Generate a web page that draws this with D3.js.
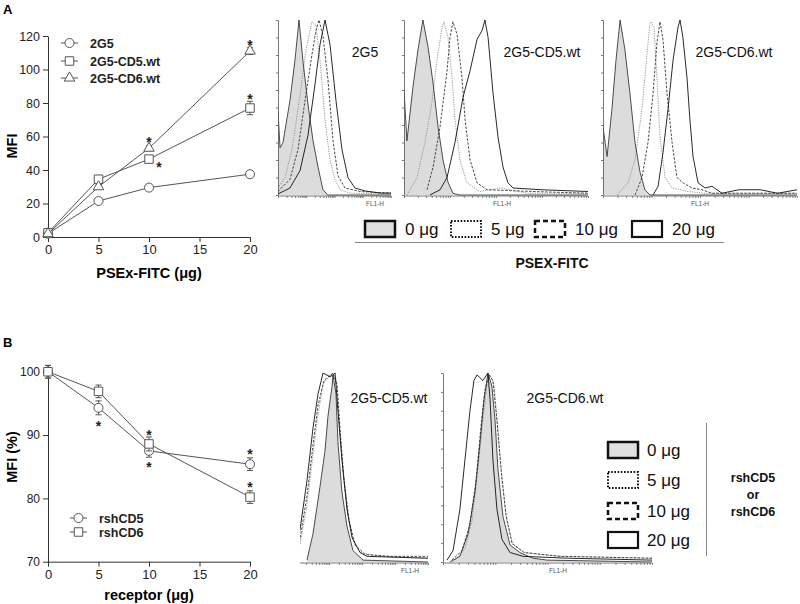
<!DOCTYPE html>
<html><head><meta charset="utf-8">
<script src="https://cdn.jsdelivr.net/npm/d3@7"></script>
<style>body{margin:0;background:#fff}svg{display:block}text{font-family:Arial,"Liberation Sans",sans-serif}</style>
</head><body><svg id="c" width="800" height="604"></svg>
<script>
// ---------- DATA: panel A line chart ----------
const doseA = [0, 5, 10, 20];
const mfi2G5 = [2, 21.5, 29.5, 37.5];
const err2G5 = [0.5, 0.8, 0.8, 1];
const mfiCD5 = [2.5, 34.5, 46.5, 77];
const errCD5 = [0.5, 1, 1.5, 4];
const mfiCD6 = [2, 30, 53, 111];
const errCD6 = [0.5, 1, 1.5, 2];
const starsA = [[20, 116.5], [10, 58.5], [11, 43.5], [20, 84]];
const yTicksA = [0, 20, 40, 60, 80, 100, 120];
const xTicks = [0, 5, 10, 15, 20];
const seriesNamesA = ["2G5", "2G5-CD5.wt", "2G5-CD6.wt"];

// ---------- DATA: panel B line chart ----------
const doseB = [0, 5, 10, 20];
const pctCD5 = [100, 94.3, 87.5, 85.4];
const errPct5 = [1, 1.1, 1, 1];
const pctCD6 = [100, 96.9, 88.6, 80.2];
const errPct6 = [1, 1, 1.1, 1];
const starsB = [[5, 91.9], [10, 90.5], [10, 85.4], [20, 87.5], [20, 82.3]];
const yTicksB = [70, 80, 90, 100];
const seriesNamesB = ["rshCD5", "rshCD6"];

// ---------- DATA: histograms (channel 0-100, % of max) ----------
const histA1_0 = [[0,48],[1.8,27],[4.4,30],[10.6,54],[15,77],[18.6,100],[22,77],[26.5,52],[31,31],[35.4,16],[39.8,3],[44,0],[100,0]];
const histA1_5 = [[0,4],[6.2,10],[12.4,26],[19.5,57],[24.8,83],[30,99],[33.6,97],[37.2,77],[41.6,43],[46,20],[50.4,9],[54.9,3],[63.7,1],[100,0.6]];
const histA1_10 = [[0,2],[10.6,9],[17.7,26],[23.9,54],[30,80],[33.6,94],[36.3,100],[39.8,91],[44.2,66],[48.7,31],[53.1,11],[59.3,4],[72.6,2],[100,1]];
const histA1_20 = [[0,0.6],[10.6,4],[19.5,14],[26.5,34],[32.7,63],[37.2,86],[41.6,100],[46,86],[51.3,54],[56.6,26],[61.9,10],[68.1,4],[77,2.3],[90.3,1.1],[100,1.1]];

const histA2_0 = [[0,60],[1.6,31],[4.9,62],[7.6,83],[10.3,100],[13,85],[15.8,64],[18.5,39],[21.2,20],[24,7],[26.6,1],[30,0],[100,0]];
const histA2_5 = [[1.6,0],[7.1,10],[11.4,30],[15.2,53],[17.9,77],[20.7,96],[21.7,99],[23.9,90],[26.1,67],[27.7,43],[30.4,20],[34.2,7],[41.3,2],[52.2,4],[67.4,1],[100,1]];
const histA2_10 = [[12.5,3],[15.8,16],[19.6,39],[23.4,71],[25,90],[26.6,99],[28.8,92],[31.5,67],[33.2,43],[35.9,20],[39.7,7],[45.1,3],[70,2],[100,1]];
const histA2_20 = [[14.1,0],[19.6,3],[23.4,10],[27.7,30],[32.1,56],[35.9,71],[39.7,89],[42.4,94],[44,100],[45.7,90],[48.4,58],[51.1,33],[53.8,16],[56.5,7],[59.2,4],[75,3],[100,2]];

const histA3_0 = [[0,39],[2.1,22],[4.6,49],[6.7,77],[8.8,100],[11.3,83],[13.9,58],[16.5,30],[19.1,13],[21.6,3],[24.2,0],[100,0]];
const histA3_5 = [[7.2,0],[12.9,7],[16.5,20],[20.1,49],[22.7,81],[24.2,98],[24.7,99],[26.3,96],[27.8,67],[29.4,33],[32,10],[35.6,4],[43.8,2],[52.6,1],[100,1]];
const histA3_10 = [[16.5,0],[20.1,10],[23.2,30],[25.8,58],[27.8,87],[29.4,99],[30.9,89],[33,58],[35.6,30],[38.1,10],[41.2,7],[45.9,4],[51,3],[56.2,1],[100,1]];
const histA3_20 = [[25.8,0],[28.4,5],[30.9,24],[33.5,49],[36.1,77],[38.7,96],[39.7,100],[41.2,90],[43.3,67],[44.8,43],[46.4,22],[49,7],[52.6,4],[56.2,5],[61.3,1],[70,3],[81,3],[90,1],[100,3]];

const histB1_0 = [[8.3,1],[12.9,15],[18.2,40],[22,59],[24.2,77],[27.3,93],[28,99],[30.3,89],[31.8,63],[34.8,37],[38.6,19],[43.2,6],[50.8,1],[100,0]];
const histB1_5 = [[0,5],[3,9],[8.3,30],[12.9,57],[16.7,78],[20.5,94],[25.8,99],[30.3,97],[32.6,75],[35.6,49],[39.4,25],[43.2,12],[48.5,5],[63.7,3],[100,2]];
const histB1_10 = [[0,7],[3,12],[8.3,35],[12.9,62],[16.7,83],[21.2,96],[28,100],[31.1,94],[33.4,70],[36.4,43],[40.2,22],[44.7,9],[52.3,4],[71.2,3],[100,3]];
const histB1_20 = [[0,8],[3,17],[8.3,43],[12.9,71],[16.7,89],[20.5,100],[25.8,98],[29.6,100],[31.8,80],[34.8,54],[38.6,28],[42.4,13],[48.5,5],[53.8,3],[100,2]];

const histB2_0 = [[3.3,0],[8.1,3],[12,15],[15.3,37],[17.7,63],[19.6,86],[21.5,100],[23.4,93],[24.9,75],[26.3,49],[28.7,24],[32.1,9],[36.8,5],[43.1,2],[49.8,1],[100,0]];
const histB2_5 = [[5.7,1],[10.5,7],[13.9,22],[16.7,49],[19.1,75],[21.1,94],[22.5,99],[24.4,94],[26.3,70],[28.2,43],[30.6,22],[33.5,9],[39.2,5],[56,3],[100,2]];
const histB2_10 = [[4.3,1],[9.1,6],[12.9,20],[15.8,43],[18.2,72],[20.1,91],[22,99],[23.9,96],[25.8,75],[27.8,49],[30.1,25],[33,10],[38.8,5],[56,3],[100,2]];
const histB2_20 = [[1.9,1],[4.8,6],[8.1,28],[10.5,54],[12.9,80],[14.8,96],[16.3,99],[19.1,96],[21.5,100],[22.5,86],[23.9,54],[25.8,28],[28.2,12],[32.1,5],[38.3,3],[60,2],[100,1]];

const doseLabels = ["0 μg", "5 μg", "10 μg", "20 μg"];
const histLabelsA = ["2G5", "2G5-CD5.wt", "2G5-CD6.wt"];
const histLabelsB = ["2G5-CD5.wt", "2G5-CD6.wt"];

// ---------- DRAW ----------
const svg = d3.select("#c");
const FONT = 'Arial,"Liberation Sans",sans-serif';
const defs = svg.append("defs");

function styleAxis(sel, fs) {
  sel.selectAll("path,line").attr("stroke", "#333").attr("stroke-width", 1);
  sel.selectAll("text").attr("fill", "#222").attr("font-size", fs).attr("font-family", FONT);
}

function lineChart(cfg) {
  const x = d3.scaleLinear().domain([0, 20]).range([48, 250]);
  const y = d3.scaleLinear().domain(cfg.yDomain).range(cfg.yRange);
  const g = svg.append("g");
  g.append("g").attr("transform", `translate(48,0)`)
    .call(d3.axisLeft(y).tickValues(cfg.yTicks).tickSize(5).tickSizeOuter(0).tickPadding(3))
    .call(s => styleAxis(s, cfg.yFs));
  g.append("g").attr("transform", `translate(0,${cfg.yRange[0]})`)
    .call(d3.axisBottom(x).tickValues(xTicks).tickSize(5).tickSizeOuter(0).tickPadding(3))
    .call(s => styleAxis(s, 13));
  g.append("text").attr("transform", `translate(17,${cfg.ytY}) rotate(-90)`).attr("text-anchor", "middle")
    .attr("font-weight", "bold").attr("font-size", 14.5).text(cfg.yTitle);
  g.append("text").attr("x", 149).attr("y", cfg.xtY).attr("text-anchor", "middle")
    .attr("font-weight", "bold").attr("font-size", 14.5).text(cfg.xTitle);
  const line = d3.line().x((d, i) => x(cfg.xs[i])).y(d => y(d));
  cfg.series.forEach(s => {
    g.append("path").attr("d", line(s.v)).attr("fill", "none").attr("stroke", "#555").attr("stroke-width", 1);
    s.v.forEach((v, i) => {
      const cx = x(cfg.xs[i]), e = s.e[i];
      g.append("line").attr("x1", cx).attr("x2", cx).attr("y1", y(v - e)).attr("y2", y(v + e)).attr("stroke", "#555");
      [v - e, v + e].forEach(w => g.append("line").attr("x1", cx - 3).attr("x2", cx + 3).attr("y1", y(w)).attr("y2", y(w)).attr("stroke", "#555"));
    });
    g.selectAll(null).data(s.v).enter().append("path")
      .attr("transform", (d, i) => `translate(${x(cfg.xs[i])},${y(d)})`)
      .attr("d", d3.symbol().type(s.sym).size(s.size)())
      .attr("fill", "#fff").attr("stroke", "#555").attr("stroke-width", 1);
  });
  g.selectAll(null).data(cfg.stars).enter().append("text")
    .attr("x", d => x(d[0])).attr("y", d => y(d[1])).attr("dy", "0.57em")
    .attr("text-anchor", "middle").attr("font-weight", "bold").attr("font-size", 14).attr("fill", "#222").text("*");
  cfg.series.forEach((s, i) => {
    const ly = cfg.legY[i];
    g.append("line").attr("x1", cfg.legX).attr("x2", cfg.legX + 17).attr("y1", ly).attr("y2", ly).attr("stroke", "#555");
    g.append("path").attr("transform", `translate(${cfg.legX + 8.5},${ly})`)
      .attr("d", d3.symbol().type(s.sym).size(s.size)()).attr("fill", "#fff").attr("stroke", "#555");
    g.append("text").attr("x", cfg.legX + 29).attr("y", ly).attr("dy", "0.36em")
      .attr("font-weight", "bold").attr("font-size", 12.5).attr("fill", "#222").text(s.name);
  });
}

lineChart({
  yDomain: [0, 120], yRange: [237, 36], yTicks: yTicksA, yFs: 12.5, xs: doseA,
  yTitle: "MFI", ytY: 146, xTitle: "PSEx-FITC (μg)", xtY: 278,
  series: [
    { name: seriesNamesA[0], v: mfi2G5, e: err2G5, sym: d3.symbolCircle, size: 64 },
    { name: seriesNamesA[1], v: mfiCD5, e: errCD5, sym: d3.symbolSquare, size: 72 },
    { name: seriesNamesA[2], v: mfiCD6, e: errCD6, sym: d3.symbolTriangle, size: 48 }
  ],
  stars: starsA, legX: 61, legY: [43, 61, 78]
});
lineChart({
  yDomain: [70, 101], yRange: [561.7, 365.4], yTicks: yTicksB, yFs: 12, xs: doseB,
  yTitle: "MFI (%)", ytY: 457, xTitle: "receptor (μg)", xtY: 600,
  series: [
    { name: seriesNamesB[0], v: pctCD5, e: errPct5, sym: d3.symbolCircle, size: 64 },
    { name: seriesNamesB[1], v: pctCD6, e: errPct6, sym: d3.symbolSquare, size: 72 }
  ],
  stars: starsB, legX: 70, legY: [518, 532]
});

svg.append("text").attr("x", 3).attr("y", 14).attr("font-weight", "bold").attr("font-size", 13).text("A");
svg.append("text").attr("x", 3).attr("y", 347).attr("font-weight", "bold").attr("font-size", 13).text("B");

const doseStyle = [
  { stroke: "#222", dash: null, w: 0.8 },
  { stroke: "#8a8a8a", dash: "1.2,1.2", w: 0.9 },
  { stroke: "#333", dash: "2.5,1.5", w: 0.9 },
  { stroke: "#111", dash: null, w: 0.9 }
];

function hist(p, idx) {
  const x = d3.scaleLinear().domain([0, 100]).range([p.x0, p.x1]);
  const y = d3.scaleLinear().domain([0, 100]).range([p.yb, p.yt]);
  const cid = "clip" + idx;
  defs.append("clipPath").attr("id", cid).append("rect")
    .attr("x", p.cx).attr("y", p.yt - 5).attr("width", p.x1 - p.cx).attr("height", p.yb - p.yt + 6);
  const g = svg.append("g");
  const area = d3.area().x(d => x(d[0])).y0(p.yb).y1(d => y(d[1]));
  const line = d3.line().x(d => x(d[0])).y(d => y(d[1]));
  const c = g.append("g").attr("clip-path", `url(#${cid})`);
  c.append("path").attr("d", area(p.curves[0])).attr("fill", "#dcdcdc");
  [1, 2, 3, 0].forEach(k => {
    const st = doseStyle[k];
    c.append("path").attr("d", line(p.curves[k])).attr("fill", "none")
      .attr("stroke", st.stroke).attr("stroke-width", st.w).attr("stroke-dasharray", st.dash);
  });
  if (p.leftAxis) {
    g.append("g").attr("transform", `translate(${p.x0},0)`)
      .call(d3.axisLeft(y).ticks(10).tickSize(2).tickFormat("").tickSizeOuter(0))
      .call(s => s.selectAll("path,line").attr("stroke", "#555").attr("stroke-width", 0.8));
  }
  const xl = d3.scaleLog().domain([1, 1e4]).range([p.x0, p.x1]);
  const ax = g.append("g").attr("transform", `translate(0,${p.yb + 1})`)
    .call(d3.axisBottom(xl).tickValues(xl.ticks()).tickSize(2).tickFormat("").tickSizeOuter(0));
  ax.select(".domain").remove();
  ax.selectAll("line").attr("stroke", "#555").attr("stroke-width", 0.7);
  ax.selectAll(".tick").filter(d => d < xl.invert(p.cx)).remove();
  g.append("line").attr("x1", p.cx).attr("x2", p.x1).attr("y1", p.yb + 1).attr("y2", p.yb + 1).attr("stroke", "#555").attr("stroke-width", 0.8);
  g.append("text").attr("x", p.flx).attr("y", p.yb + 11).attr("text-anchor", "middle")
    .attr("font-size", 6.5).attr("fill", "#555").text("FL1-H");
  g.append("text").attr("x", p.lx).attr("y", p.ly).attr("dy", "0.36em").attr("text-anchor", "middle")
    .attr("font-size", 14).attr("fill", "#111").text(p.label);
}

const panels = [
  { x0: 278, cx: 278, x1: 391, yb: 195, yt: 20, leftAxis: true, flx: 375, lx: 365, ly: 52, label: histLabelsA[0], curves: [histA1_0, histA1_5, histA1_10, histA1_20] },
  { x0: 404, cx: 404, x1: 588, yb: 195, yt: 20, leftAxis: true, flx: 502, lx: 542, ly: 52, label: histLabelsA[1], curves: [histA2_0, histA2_5, histA2_10, histA2_20] },
  { x0: 603, cx: 603, x1: 797, yb: 195, yt: 20, leftAxis: true, flx: 700, lx: 734, ly: 52, label: histLabelsA[2], curves: [histA3_0, histA3_5, histA3_10, histA3_20] },
  { x0: 296, cx: 300, x1: 428, yb: 562, yt: 373, leftAxis: false, flx: 410, lx: 389, ly: 398, label: histLabelsB[0], curves: [histB1_0, histB1_5, histB1_10, histB1_20] },
  { x0: 443, cx: 443, x1: 652, yb: 562, yt: 373, leftAxis: true, flx: 558, lx: 565, ly: 398, label: histLabelsB[1], curves: [histB2_0, histB2_5, histB2_10, histB2_20] }
];
panels.forEach(hist);

const boxStyle = [
  { fill: "#e0e0e0", dash: null, w: 2.5 },
  { fill: "#fff", dash: "1.6,1.6", w: 2 },
  { fill: "#fff", dash: "5,3", w: 2.5 },
  { fill: "#fff", dash: null, w: 2.2 }
];
function legendBox(bx, by, k, tx) {
  svg.append("rect").attr("x", bx).attr("y", by).attr("width", 30).attr("height", 16)
    .attr("fill", boxStyle[k].fill).attr("stroke", "#111").attr("stroke-width", boxStyle[k].w)
    .attr("stroke-dasharray", boxStyle[k].dash);
  svg.append("text").attr("x", tx).attr("y", by + 8).attr("dy", "0.36em").attr("font-size", 17)
    .attr("fill", "#111").text(doseLabels[k]);
}
const boxXA = [365, 451, 535, 632];
doseLabels.forEach((d, k) => legendBox(boxXA[k], 221, k, boxXA[k] + 40));
svg.append("line").attr("x1", 355).attr("x2", 724).attr("y1", 242.5).attr("y2", 242.5).attr("stroke", "#888");
svg.append("text").attr("x", 552).attr("y", 263).attr("dy", "0.36em").attr("text-anchor", "middle")
  .attr("font-weight", "bold").attr("font-size", 14).attr("fill", "#111").text("PSEX-FITC");
const boxYB = [442, 472, 503, 532];
doseLabels.forEach((d, k) => legendBox(608, boxYB[k], k, 647));
svg.append("line").attr("x1", 706.5).attr("x2", 706.5).attr("y1", 423).attr("y2", 556).attr("stroke", "#888");
["rshCD5", "or", "rshCD6"].forEach((t, i) => svg.append("text").attr("x", 753).attr("y", [477, 494, 511][i])
  .attr("dy", "0.36em").attr("text-anchor", "middle").attr("font-weight", "bold").attr("font-size", 12.5).attr("fill", "#111").text(t));
</script></body></html>
